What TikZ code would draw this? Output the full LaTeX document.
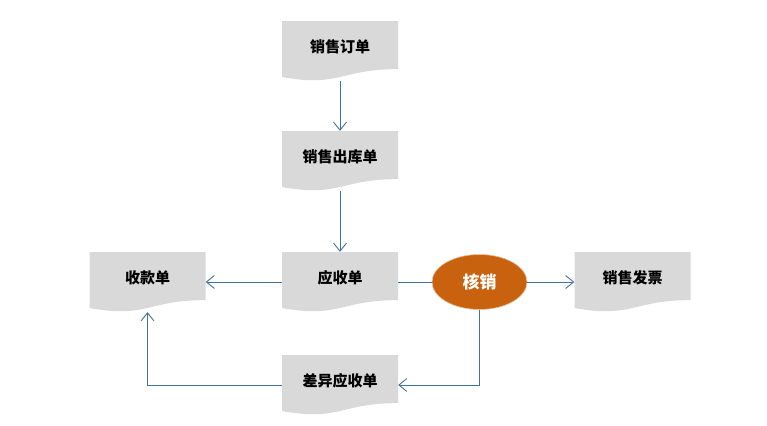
\documentclass[tikz,border=0pt]{standalone}
\usepackage{fontspec}
\newfontfamily\cjk{Noto Sans CJK SC}
\usetikzlibrary{arrows.meta, calc, shapes.geometric}
\definecolor{docgray}{RGB}{217,217,217}
\definecolor{linkblue}{RGB}{65,113,156}
\definecolor{verifyorange}{RGB}{200,98,14}
\def\ppb{path picture bounding box}
\tikzset{
  doc/.style={rectangle, minimum width=116pt, minimum height=60pt, inner sep=0pt,
    text height=13pt, text depth=9.8pt, font=\cjk\bfseries\fontsize{15pt}{15pt}\selectfont,
    path picture={\fill[docgray] (\ppb.north west) -- (\ppb.north east)
      -- ($(\ppb.north east)!0.802!(\ppb.south east)$)
      .. controls ($(\ppb.north)!0.802!(\ppb.south)$) and ($(\ppb.north)!1.1075!(\ppb.south)$)
      .. ($(\ppb.north west)!0.934!(\ppb.south west)$) -- cycle;}},
  link/.style={draw=linkblue, line width=0.9pt},
  arr/.style={link, -{Straight Barb[length=8pt, width=13pt]}}
}

\begin{document}
\begin{tikzpicture}[x=1pt, y=-1pt]
\useasboundingbox (0,0) rectangle (767,425);
\node (order) at (340,51) [doc] {销售订单};
\node (outbound) at (340,161) [doc] {销售出库单};
\node (receivable) at (340,282) [doc] {应收单};
\node (receipt) at (147.5,282) [doc] {收款单};
\node (invoice) at (632.5,282) [doc] {销售发票};
\node (diff) at (340,385) [doc] {差异应收单};
\node (verify) at (479.5,282) [ellipse, fill=verifyorange, draw=verifyorange!40, line width=0.6pt,
  minimum width=95pt, minimum height=55pt, inner sep=0pt, text=white,
  text height=15pt, text depth=3pt, font=\cjk\bfseries\fontsize{17pt}{17pt}\selectfont] {核销};
\draw [arr] (order) -- (outbound);
\draw [arr] (outbound) -- (receivable);
\draw [arr] (receivable) -- (receipt);
\draw [link] (receivable) -- (verify);
\draw [arr] (verify) -- (invoice);
\draw [arr] (verify.south) |- (diff.east);
\draw [arr] (diff.west) -| (receipt.south);
\end{tikzpicture}
\end{document}
